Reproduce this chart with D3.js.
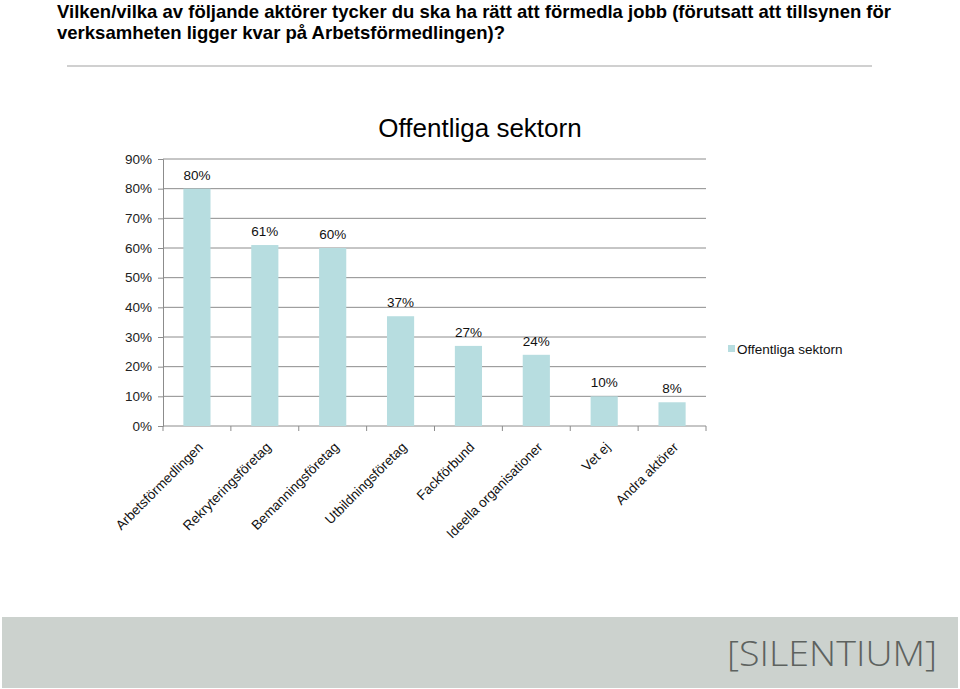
<!DOCTYPE html>
<html>
<head>
<meta charset="utf-8">
<script src="https://cdn.jsdelivr.net/npm/d3@7"></script>
<style>
  body { margin: 0; background: #fff; }
  svg { display: block; font-family: "Liberation Sans", Arial, sans-serif; }
</style>
</head>
<body>
<div id="chart"></div>
<script>
const titleLines = [
  "Vilken/vilka av följande aktörer tycker du ska ha rätt att förmedla jobb (förutsatt att tillsynen för",
  "verksamheten ligger kvar på Arbetsförmedlingen)?"
];
const chartTitle = "Offentliga sektorn";
const seriesName = "Offentliga sektorn";
const categories = [
  "Arbetsförmedlingen", "Rekryteringsföretag", "Bemanningsföretag", "Utbildningsföretag",
  "Fackförbund", "Ideella organisationer", "Vet ej", "Andra aktörer"
];
const values = [0.80, 0.61, 0.60, 0.37, 0.27, 0.24, 0.10, 0.08];
const yTicks = [0, 0.1, 0.2, 0.3, 0.4, 0.5, 0.6, 0.7, 0.8, 0.9];

const width = 960, height = 689;
const plot = { left: 163, right: 706, top: 159, bottom: 426 };
const barColor = "#b7dde0";
const gridColor = "#8c8c8c";
const fs = 13.5;

const svg = d3.select("#chart").append("svg")
  .attr("width", width)
  .attr("height", height);

// Heading
svg.selectAll("text.heading")
  .data(titleLines)
  .join("text")
  .attr("class", "heading")
  .attr("x", 57)
  .attr("y", (d, i) => 18 + i * 21)
  .attr("font-size", 18.5)
  .attr("font-weight", "bold")
  .attr("fill", "#000")
  .attr("textLength", (d, i) => i === 0 ? 834 : 448)
  .attr("lengthAdjust", "spacingAndGlyphs")
  .text(d => d);

svg.append("line")
  .attr("x1", 67).attr("x2", 872)
  .attr("y1", 66).attr("y2", 66)
  .attr("stroke", "#d0d0d0")
  .attr("stroke-width", 2);

const x = d3.scaleBand()
  .domain(categories)
  .range([plot.left, plot.right])
  .paddingInner(0.6)
  .paddingOuter(0.3);

const y = d3.scaleLinear()
  .domain([0, 0.9])
  .range([plot.bottom, plot.top]);

// Gridlines
svg.append("g")
  .selectAll("line")
  .data(yTicks.slice(1))
  .join("line")
  .attr("x1", plot.left).attr("x2", plot.right)
  .attr("y1", d => y(d)).attr("y2", d => y(d))
  .attr("stroke", gridColor)
  .attr("stroke-width", 1);

// Y axis
const yAxis = svg.append("g")
  .attr("transform", `translate(${plot.left},0)`)
  .call(d3.axisLeft(y).tickValues(yTicks).tickFormat(d3.format(".0%")).tickSize(5).tickPadding(6));
yAxis.select(".domain").attr("stroke", gridColor);
yAxis.selectAll(".tick line").attr("stroke", gridColor);
yAxis.selectAll(".tick text")
  .attr("font-size", fs)
  .attr("font-family", "Liberation Sans, Arial, sans-serif")
  .attr("fill", "#222");

// X axis
const bounds = d3.range(categories.length + 1).map(i => plot.left + i * x.step());
const xAxis = svg.append("g");
xAxis.append("line")
  .attr("x1", plot.left).attr("x2", plot.right)
  .attr("y1", plot.bottom).attr("y2", plot.bottom)
  .attr("stroke", gridColor);
xAxis.selectAll("line.tk")
  .data(bounds)
  .join("line")
  .attr("class", "tk")
  .attr("x1", d => d).attr("x2", d => d)
  .attr("y1", plot.bottom).attr("y2", plot.bottom + 5)
  .attr("stroke", gridColor);

xAxis.selectAll("text")
  .data(categories)
  .join("text")
  .attr("transform", d => `translate(${x(d) + x.bandwidth() / 2 + 7},${plot.bottom + 22}) rotate(-45)`)
  .attr("text-anchor", "end")
  .attr("font-size", fs)
  .attr("fill", "#111")
  .text(d => d);

// Bars
svg.append("g")
  .selectAll("rect")
  .data(values)
  .join("rect")
  .attr("x", (d, i) => x(categories[i]))
  .attr("y", d => y(d))
  .attr("width", x.bandwidth())
  .attr("height", d => plot.bottom - y(d))
  .attr("fill", barColor);

// Value labels
svg.append("g")
  .selectAll("text")
  .data(values)
  .join("text")
  .attr("x", (d, i) => x(categories[i]) + x.bandwidth() / 2)
  .attr("y", d => y(d) - 9)
  .attr("text-anchor", "middle")
  .attr("font-size", fs)
  .attr("fill", "#111")
  .text(d => d3.format(".0%")(d));

// Chart title
svg.append("text")
  .attr("x", 480)
  .attr("y", 137)
  .attr("text-anchor", "middle")
  .attr("font-size", 26)
  .attr("fill", "#000")
  .text(chartTitle);

// Legend
svg.append("rect")
  .attr("x", 728).attr("y", 345)
  .attr("width", 7).attr("height", 7)
  .attr("fill", barColor);
svg.append("text")
  .attr("x", 737).attr("y", 354)
  .attr("font-size", fs)
  .attr("fill", "#111")
  .text(seriesName);

// Footer
svg.append("rect")
  .attr("x", 2).attr("y", 617)
  .attr("width", 956).attr("height", 71)
  .attr("fill", "#ccd2ce");
svg.append("text")
  .attr("x", 727).attr("y", 666)
  .attr("font-family", "Open Sans, DejaVu Sans, sans-serif")
  .attr("font-weight", 300)
  .attr("font-size", 34)
  .attr("fill", "#5d625f")
  .attr("textLength", 210)
  .attr("lengthAdjust", "spacingAndGlyphs")
  .text("[SILENTIUM]");
</script>
</body>
</html>
